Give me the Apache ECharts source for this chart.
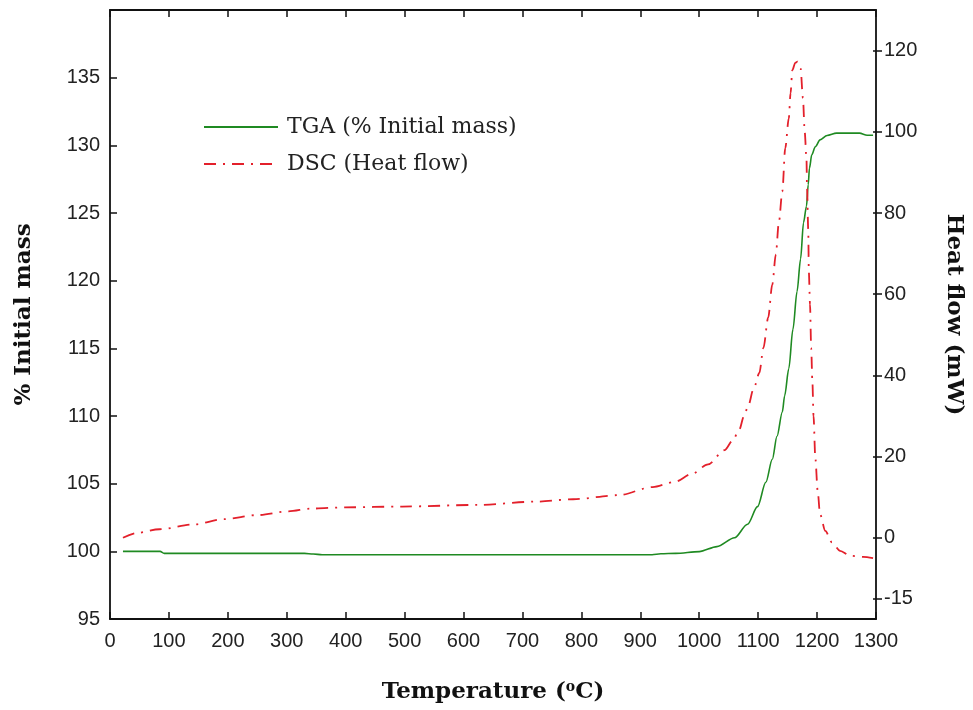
<!DOCTYPE html>
<html>
<head>
<meta charset="utf-8">
<script src="https://cdn.jsdelivr.net/npm/echarts@6/dist/echarts.min.js"></script>
<style>
html,body{margin:0;padding:0;background:#fff;overflow:hidden;width:973px;height:710px;}
#c{width:973px;height:710px;}
</style>
</head>
<body>
<div id="c"></div>
<script>
// Temperature axis ticks
var xTicks = [0,100,200,300,400,500,600,700,800,900,1000,1100,1200,1300];
var rightTicks = [-15,0,20,40,60,80,100,120];

// TGA (% initial mass) vs temperature
var tgaTemp = [22,85,92,330,345,360,920,935,960,1000,1030,1060,1082,1099,1113,1124,1132,1141,1145,1152,1159,1166,1172,1177,1182,1185,1187,1191,1197,1205,1217,1233,1272,1285,1295];
var tgaMass = [100.0,100.0,99.85,99.85,99.8,99.75,99.75,99.82,99.85,99.98,100.35,101.0,102.0,103.3,105.1,106.8,108.5,110.3,111.5,113.5,116.4,119.2,121.6,124.3,125.5,127.1,128.3,129.3,129.9,130.4,130.73,130.9,130.9,130.75,130.75];

// DSC (heat flow, mW) vs temperature
var dscTemp = [22,45,84,142,193,251,303,341,399,496,625,721,786,863,921,959,987,1015,1043,1057,1068,1076,1082,1093,1102,1109,1117,1124,1130,1135,1141,1146,1152,1155,1158,1163,1167,1172,1176,1179,1182,1183,1185,1186,1188,1190,1192,1194,1197,1201,1205,1214,1225,1239,1256,1278,1295];
var dscHeat = [0.0,1.2,2.1,3.3,4.6,5.6,6.5,7.2,7.5,7.7,8.1,8.9,9.5,10.5,12.5,13.8,15.7,18.1,21.6,24,26.7,30,32,37,40.6,46.8,54.2,62.4,69.8,77.5,85.3,96,103.3,109.5,115.2,117,117.3,115.6,108.3,100,93.5,86,76,65.6,57.5,46.8,38.6,30,19.7,11.6,5.8,1.7,-1.1,-3.2,-4.4,-4.7,-5.0];

function zip(a,b){var r=[];for(var i=0;i<a.length;i++)r.push([a[i],b[i]]);return r;}

var chart = echarts.init(document.getElementById('c'), null, {renderer:'canvas', width:973, height:710});
var labelFont = {fontFamily:'Liberation Sans', fontSize:20, color:'#222'};
var titleFont = {fontFamily:'DejaVu Serif', fontWeight:'bold', fontSize:23, color:'#111'};
function axisLine(){ return {show:true, onZero:false, lineStyle:{color:'#111', width:1.8}}; }
function plain(v){ return String(v); }

chart.setOption({
  animation:false,
  backgroundColor:'#fff',
  grid:{left:110, right:90, top:10, bottom:91, containLabel:false},
  legend:{
    orient:'vertical', left:198, top:111, itemWidth:74, itemHeight:14, itemGap:15,
    itemStyle:{opacity:0},
    textStyle:{fontFamily:'DejaVu Serif', fontSize:22, color:'#222', padding:[0,0,0,4]},
    data:['TGA (% Initial mass)','DSC (Heat flow)']
  },
  xAxis:[{
    type:'value', position:'bottom', min:0, max:1300, interval:100,
    axisLine:axisLine(),
    axisTick:{show:true, inside:true, length:7, lineStyle:{color:'#111', width:1.5}},
    axisLabel:Object.assign({margin:12, formatter:plain}, labelFont),
    splitLine:{show:false},
    name:'{a|Temperature (}{s|o}{a|C)}', nameLocation:'middle', nameGap:61,
    nameTextStyle:{rich:{
      a:titleFont,
      s:{fontFamily:'DejaVu Serif', fontWeight:'bold', fontSize:14, color:'#111', padding:[0,0,11,0]}
    }}
  },{
    type:'value', position:'top', min:0, max:1300, interval:100,
    axisLine:axisLine(),
    axisTick:{show:true, inside:true, length:7, lineStyle:{color:'#111', width:1.5}},
    axisLabel:{show:false}, splitLine:{show:false}
  }],
  yAxis:[{
    type:'value', position:'left', min:95, max:140, interval:5,
    axisLine:axisLine(),
    axisTick:{show:true, inside:true, length:7, lineStyle:{color:'#111', width:1.5}},
    axisLabel:Object.assign({margin:10, showMaxLabel:false}, labelFont),
    splitLine:{show:false},
    name:'% Initial mass', nameLocation:'middle', nameRotate:90, nameGap:74,
    nameTextStyle:titleFont
  },{
    type:'value', position:'right', min:-20, max:130,
    axisLine:axisLine(),
    axisTick:{show:true, inside:false, length:6, customValues:rightTicks, lineStyle:{color:'#111', width:1.5}},
    axisLabel:Object.assign({margin:8, customValues:rightTicks}, labelFont),
    splitLine:{show:false},
    name:'Heat flow (mW)', nameLocation:'middle', nameRotate:-90, nameGap:66,
    nameTextStyle:titleFont
  },{
    type:'value', position:'right', min:-20, max:130,
    axisLine:{show:false, onZero:false},
    axisTick:{show:true, inside:true, length:3, customValues:rightTicks, lineStyle:{color:'#111', width:1.5}},
    axisLabel:{show:false}, splitLine:{show:false}
  }],
  series:[{
    name:'TGA (% Initial mass)', type:'line', xAxisIndex:0, yAxisIndex:0,
    data:zip(tgaTemp,tgaMass), symbol:'none', smooth:0.3, smoothMonotone:'x',
    lineStyle:{color:'#1f8a22', width:1.6}, itemStyle:{color:'#1f8a22'}
  },{
    name:'DSC (Heat flow)', type:'line', xAxisIndex:0, yAxisIndex:1,
    data:zip(dscTemp,dscHeat), symbol:'none', smooth:0.3, smoothMonotone:'x',
    lineStyle:{color:'#e3202b', width:1.8, type:[12,7,2,7]}, itemStyle:{color:'#e3202b'}
  }]
});
</script>
</body>
</html>
